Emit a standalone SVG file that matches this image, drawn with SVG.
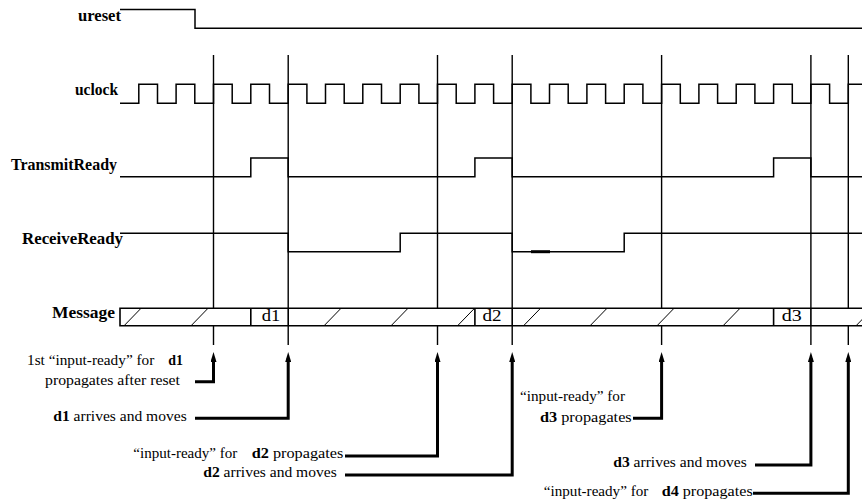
<svg xmlns="http://www.w3.org/2000/svg" width="862" height="503" viewBox="0 0 862 503">
<style>
  .wave{fill:none;stroke:#000;stroke-width:1.5}
  .vline{fill:none;stroke:#000;stroke-width:1.4}
  .bus{fill:none;stroke:#000;stroke-width:1.6}
  .hatch{fill:none;stroke:#000;stroke-width:1}
  .arrow{fill:none;stroke:#000;stroke-width:3;marker-end:url(#ah)}
  .lbl{font-family:"Liberation Serif","Times New Roman",serif;font-size:16px;font-weight:bold;fill:#000}
  .note{font-family:"Liberation Serif","Times New Roman",serif;font-size:15px;fill:#000}
  .val{font-family:"Liberation Serif","Times New Roman",serif;font-size:16px;fill:#000}
  .b{font-weight:bold}
</style>
<defs>
  <marker id="ah" markerUnits="userSpaceOnUse" viewBox="0 0 10 6" markerWidth="10" markerHeight="6" refX="4" refY="3" orient="auto">
    <path d="M0,0 L10,3 L0,6 z" fill="#000"/>
  </marker>
</defs>
<rect width="862" height="503" fill="#fff"/>

<g id="guides">
  <path class="vline" d="M213.5,55V345 M288.2,55V345 M437.5,55V345 M512.2,55V345 M661.6,55V345 M810.9,55V345 M848.3,55V345"/>
</g>

<g id="ureset">
  <text class="lbl" x="78" y="21" textLength="43" lengthAdjust="spacingAndGlyphs">ureset</text>
  <path class="wave" d="M120,9.5H195V28.3H862"/>
</g>

<g id="uclock">
  <text class="lbl" x="75" y="95" textLength="43" lengthAdjust="spacingAndGlyphs">uclock</text>
  <path class="wave" d="M120,103.3H138.8V84.3H157.5V103.3H176.1V84.3H194.8V103.3H213.5V84.3H232.2V103.3H250.8V84.3H269.5V103.3H288.2V84.3H306.9V103.3H325.5V84.3H344.2V103.3H362.8V84.3H381.5V103.3H400.2V84.3H418.9V103.3H437.5V84.3H456.2V103.3H474.9V84.3H493.6V103.3H512.2V84.3H530.9V103.3H549.5V84.3H568.2V103.3H586.9V84.3H605.6V103.3H624.2V84.3H642.9V103.3H661.6V84.3H680.3V103.3H698.9V84.3H717.6V103.3H736.2V84.3H754.9V103.3H773.6V84.3H792.3V103.3H810.9V84.3H829.6V103.3H848.3V84.3H862"/>
</g>

<g id="transmitready">
  <text class="lbl" x="11" y="170" textLength="106" lengthAdjust="spacingAndGlyphs">TransmitReady</text>
  <path class="wave" d="M120,176.7H250.8V158H288.2V176.7H474.9V158H512.2V176.7H773.6V158H810.9V176.7H862"/>
</g>

<g id="receiveready">
  <text class="lbl" x="22" y="244.3" textLength="101" lengthAdjust="spacingAndGlyphs">ReceiveReady</text>
  <path class="wave" d="M120,233.3H288.2V251.7H400.2V233.3H512.2V251.7H624.2V233.3H862"/>
  <path d="M531,251.7H550" stroke="#000" stroke-width="3"/>
</g>

<g id="message">
  <text class="lbl" x="52" y="318.3" textLength="63" lengthAdjust="spacingAndGlyphs">Message</text>
  <rect x="120" y="308.3" width="742" height="17.5" fill="#fff"/>
  <path class="bus" d="M862,308.3H120V325.8H862"/>
  <path class="bus" d="M250.8,308.3V325.8 M288.2,308.3V325.8 M474.9,308.3V325.8 M512.2,308.3V325.8 M773.6,308.3V325.8 M810.9,308.3V325.8"/>
  <path class="hatch" d="M124,325.8l17,-17.5 M191,325.8l17,-17.5 M324,325.8l17,-17.5 M391,325.8l17,-17.5 M457.5,325.8l17,-17.5 M523.5,325.8l17,-17.5 M590,325.8l17,-17.5 M657,325.8l17,-17.5 M723,325.8l17,-17.5 M856,325.8l17,-17.5"/>
  <text class="val" x="261.7" y="321" textLength="18.5" lengthAdjust="spacingAndGlyphs">d1</text>
  <text class="val" x="482.5" y="321" textLength="19" lengthAdjust="spacingAndGlyphs">d2</text>
  <text class="val" x="781.7" y="321" textLength="20" lengthAdjust="spacingAndGlyphs">d3</text>
</g>

<g id="connectors">
  <path class="arrow" d="M195,381.7H213.5V358"/>
  <path class="arrow" d="M195,418.3H288.2V358"/>
  <path class="arrow" d="M345,456H437.5V358"/>
  <path class="arrow" d="M345,475H512.2V358"/>
  <path class="arrow" d="M633,418.3H661.6V358"/>
  <path class="arrow" d="M755,465H810.9V358"/>
  <path class="arrow" d="M753,493.3H848.3V358"/>
</g>

<g id="note1">
  <text class="note" x="27" y="365" textLength="127.3" lengthAdjust="spacingAndGlyphs">1st “input-ready” for</text>
  <text class="note b" x="168.3" y="365" textLength="14.7" lengthAdjust="spacingAndGlyphs">d1</text>
  <text class="note" x="45" y="385" textLength="135" lengthAdjust="spacingAndGlyphs">propagates after reset</text>
</g>
<g id="note2">
  <text class="note" x="53.3" y="420.7" textLength="133.4" lengthAdjust="spacingAndGlyphs"><tspan class="b">d1</tspan> arrives and moves</text>
</g>
<g id="note3">
  <text class="note" x="133.3" y="458.3" textLength="104" lengthAdjust="spacingAndGlyphs">“input-ready” for</text>
  <text class="note" x="251.7" y="458.3" textLength="91.6" lengthAdjust="spacingAndGlyphs"><tspan class="b">d2</tspan> propagates</text>
</g>
<g id="note4">
  <text class="note" x="203.3" y="476.7" textLength="133.4" lengthAdjust="spacingAndGlyphs"><tspan class="b">d2</tspan> arrives and moves</text>
</g>
<g id="note5">
  <text class="note" x="520" y="401" textLength="105" lengthAdjust="spacingAndGlyphs">“input-ready” for</text>
  <text class="note" x="540" y="421.7" textLength="91.7" lengthAdjust="spacingAndGlyphs"><tspan class="b">d3</tspan> propagates</text>
</g>
<g id="note6">
  <text class="note" x="613.3" y="466.7" textLength="133.4" lengthAdjust="spacingAndGlyphs"><tspan class="b">d3</tspan> arrives and moves</text>
</g>
<g id="note7">
  <text class="note" x="543.8" y="495.7" textLength="104.5" lengthAdjust="spacingAndGlyphs">“input-ready” for</text>
  <text class="note" x="661.7" y="495.7" textLength="91" lengthAdjust="spacingAndGlyphs"><tspan class="b">d4</tspan> propagates</text>
</g>
</svg>
